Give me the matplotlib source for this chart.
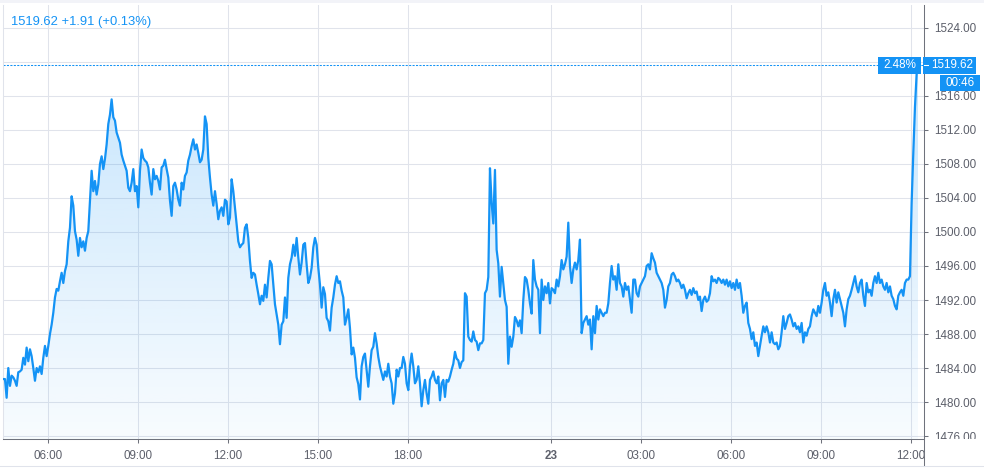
import numpy as np
import matplotlib
matplotlib.use("Agg")
import matplotlib.pyplot as plt
from matplotlib.patches import Rectangle, Polygon
from matplotlib.colors import to_rgb
from matplotlib.lines import Line2D
import matplotlib.transforms as mtransforms

# ---------------- data ----------------
# price samples, one every 3 min 20 s of trading time, 22nd 04:30 -> 23rd 12:14
prices_22_morning = [
    1482.7, 1482.7, 1480.5, 1484.0, 1481.9, 1483.1, 1482.9, 1482.5, 1481.9, 1483.5,
    1483.6, 1483.8, 1485.2, 1484.4, 1486.4, 1484.8, 1486.2, 1485.4, 1484.0, 1482.5,
    1484.0, 1483.5, 1484.2, 1483.3, 1485.2, 1486.6, 1485.4, 1486.6, 1488.0, 1489.1,
    1490.5, 1492.3, 1493.3, 1493.1, 1494.2, 1495.2, 1494.0, 1495.4, 1496.2, 1498.9,
    1500.5, 1504.2, 1503.1, 1500.1, 1499.1, 1497.2, 1499.3, 1498.2, 1498.9, 1497.8,
    1499.3, 1500.1, 1503.7, 1507.2, 1504.8, 1506.0, 1504.4, 1505.6, 1508.0, 1508.9,
    1507.4, 1508.6, 1510.3, 1512.7, 1513.8, 1515.6, 1513.5, 1513.1, 1511.7, 1511.1,
    1510.5, 1509.1, 1508.4, 1507.8, 1507.2, 1505.2, 1504.8, 1505.8, 1507.4, 1504.8,
    1505.4, 1502.9, 1507.2, 1509.7, 1508.7, 1508.4, 1508.2, 1507.6, 1505.8, 1504.4,
    1507.4, 1506.2, 1506.6, 1506.0, 1505.0, 1507.6, 1507.8, 1508.5, 1507.4, 1506.4,
    1503.7, 1501.9, 1505.4, 1505.8, 1505.0, 1503.8,
]
prices_22_midday = [
    1503.1, 1505.8, 1505.0, 1506.6, 1507.0, 1508.4, 1509.1, 1510.1, 1510.9, 1509.7,
    1510.3, 1509.3, 1508.2, 1508.5, 1509.7, 1513.6, 1512.7, 1508.7, 1506.4, 1504.4,
    1503.1, 1504.8, 1503.3, 1501.5, 1502.5, 1502.9, 1501.9, 1503.8, 1503.6, 1500.9,
    1501.7, 1506.2, 1504.8, 1502.9, 1500.9, 1498.9, 1498.2, 1498.5, 1498.7, 1500.5,
    1500.9, 1499.3, 1496.6, 1494.6, 1495.2, 1495.0, 1493.8, 1492.7, 1491.5, 1492.5,
    1491.9, 1493.8, 1492.3, 1494.6, 1496.6, 1496.2, 1493.8, 1491.5, 1490.3, 1489.1,
    1486.8, 1489.1, 1489.5, 1492.3, 1489.9, 1494.6, 1496.2, 1497.0, 1498.5, 1497.2,
    1499.3, 1497.0, 1495.0, 1496.4, 1498.5, 1498.7, 1496.2, 1494.0, 1494.6, 1495.8,
    1498.2, 1499.3, 1498.5, 1495.8, 1493.8, 1491.1, 1493.5, 1492.7, 1489.9, 1489.5,
    1488.4, 1491.1, 1492.3, 1493.8, 1494.8, 1494.0, 1494.2, 1493.1, 1492.3, 1489.1,
    1489.9, 1490.9, 1488.7, 1485.6, 1486.4, 1485.2, 1482.9, 1482.1,
]
prices_22_evening = [
    1480.3, 1484.2, 1485.3, 1485.7, 1483.8, 1481.8, 1484.2, 1486.1, 1486.5, 1488.1,
    1486.9, 1485.3, 1484.2, 1483.4, 1482.6, 1483.6, 1483.0, 1484.5, 1483.0, 1482.2,
    1479.8, 1481.0, 1483.8, 1483.0, 1484.0, 1484.0, 1485.3, 1484.5, 1482.2, 1481.4,
    1484.2, 1485.7, 1484.2, 1482.2, 1482.6, 1484.2, 1482.2, 1479.5, 1481.4, 1482.6,
    1481.0, 1479.8, 1482.6, 1483.0, 1483.6, 1482.6, 1482.2, 1483.0, 1480.2, 1482.2,
    1482.6, 1480.6, 1482.6, 1482.4, 1483.0, 1483.8, 1484.5, 1485.9, 1485.1, 1484.9,
    1484.0, 1484.7, 1484.9, 1492.8, 1492.4, 1487.7, 1487.3, 1487.1, 1488.3, 1487.3,
    1487.1, 1486.1, 1486.9, 1486.9, 1487.3, 1492.8, 1493.2, 1494.7, 1507.5, 1503.4,
    1501.0, 1507.3, 1497.9, 1496.3, 1492.4, 1495.9, 1494.0, 1492.0, 1491.2, 1484.5,
    1487.7, 1486.5, 1487.7, 1490.0, 1489.6, 1488.9, 1489.6, 1488.1, 1492.0, 1494.7,
    1494.4, 1493.2, 1491.6, 1490.4, 1496.7, 1494.4, 1493.6, 1493.2,
]
prices_23_night = [
    1488.1, 1494.4, 1492.0, 1493.6, 1492.8, 1494.0, 1491.6, 1493.4, 1493.2, 1492.8,
    1494.4, 1493.6, 1494.8, 1496.7, 1495.6, 1496.2, 1497.1, 1501.1, 1496.0, 1494.0,
    1495.6, 1496.4, 1495.6, 1496.7, 1499.1, 1488.1, 1489.3, 1489.7, 1490.1, 1489.1,
    1489.7, 1486.2, 1490.1, 1488.1, 1491.3, 1489.7, 1490.9, 1490.5, 1490.1, 1490.5,
    1490.5, 1491.6, 1494.0, 1496.0, 1494.4, 1494.8, 1493.2, 1496.2, 1494.0, 1493.6,
    1492.4, 1494.0, 1493.2, 1493.6, 1492.0, 1490.5, 1494.4, 1494.4, 1492.8, 1492.4,
    1493.6, 1494.0, 1494.4, 1494.8, 1496.0, 1496.2, 1495.6, 1497.5, 1496.9, 1496.4,
    1495.2, 1494.8, 1494.4, 1494.0, 1493.2, 1491.1, 1492.0, 1493.6, 1494.0, 1495.0,
    1495.2, 1494.8, 1494.2, 1494.4, 1494.0, 1493.4, 1493.8, 1493.2, 1492.2, 1492.8,
    1493.2, 1492.6, 1493.4, 1492.8, 1493.0, 1492.0, 1492.4, 1490.7, 1492.0, 1492.4,
    1491.8, 1492.0, 1492.8, 1494.8, 1494.2, 1494.4, 1494.0, 1494.6,
]
prices_23_morning = [
    1494.4, 1494.0, 1494.4, 1493.8, 1494.4, 1493.6, 1494.2, 1493.4, 1494.0, 1493.2,
    1494.4, 1493.4, 1494.0, 1492.5, 1490.5, 1491.3, 1491.7, 1489.3, 1488.6, 1487.4,
    1488.2, 1486.6, 1487.0, 1485.4, 1486.6, 1487.8, 1488.9, 1488.2, 1488.9, 1488.2,
    1487.0, 1488.2, 1487.0, 1486.8, 1487.0, 1486.2, 1486.6, 1488.2, 1490.1, 1488.6,
    1489.3, 1490.1, 1490.3, 1489.7, 1488.9, 1489.3, 1488.6, 1488.9, 1488.2, 1489.3,
    1487.0, 1488.2, 1487.8, 1488.6, 1488.9, 1490.1, 1490.9, 1490.5, 1490.1, 1491.3,
    1490.5, 1491.7, 1493.2, 1494.0, 1492.5, 1492.9, 1491.7, 1490.1, 1492.1, 1493.2,
    1491.7, 1492.9, 1492.1, 1491.3, 1490.5, 1488.9, 1490.9, 1492.1, 1492.5, 1493.2,
    1494.0, 1494.8, 1493.6, 1492.9, 1494.0, 1494.4, 1492.5, 1491.3, 1494.0, 1492.9,
    1493.2, 1492.5, 1494.0, 1494.8, 1494.0, 1495.2, 1494.0, 1494.4, 1493.6, 1493.2,
    1494.0, 1492.9, 1493.6, 1492.5, 1492.1, 1491.3, 1490.9, 1492.5, 1492.9, 1493.2,
    1492.5, 1494.0, 1494.4, 1494.4, 1494.8, 1503.4, 1509.3, 1514.7, 1518.6, 1519.62,
]

start_hour = 4.51            # trading-time hour of the first sample (22nd)
sample_minutes = 10.0 / 3.0  # spacing between samples
session_break_h = 1.23       # clock hours skipped by the daily break

tick_hours = [6, 9, 12, 15, 18, 24, 27, 30, 33, 36]
tick_labels = ["06:00", "09:00", "12:00", "15:00", "18:00", "23",
               "03:00", "06:00", "09:00", "12:00"]
y_ticks = list(range(1476, 1525, 4))

legend_text = "1519.62 +1.91 (+0.13%)"
change_pct_text = "2.48%"
countdown_text = "00:46"

# ---------------- derived ----------------
prices = np.array(prices_22_morning + prices_22_midday + prices_22_evening
                  + prices_23_night + prices_23_morning)
t = start_hour + np.arange(len(prices)) * sample_minutes / 60.0
tick_pos = [h if h < 24 else h - session_break_h for h in tick_hours]
last = prices[-1]

BLUE = "#1493f5"
GRID = "#e0e3eb"
TXT = "#5d606b"
AXC = "#6f727c"
FONT = ["Liberation Sans", "DejaVu Sans"]
plt.rcParams["font.family"] = FONT

W, H = 984, 474
fig = plt.figure(figsize=(W / 100, H / 100), dpi=100)
fig.patch.set_facecolor("white")
L, R, T, B = 3, 924, 5, 439
ax = fig.add_axes([L / W, (H - B) / H, (R - L) / W, (B - T) / H])
ax.set_facecolor("white")

ymin, ymax = 1475.65, 1526.7
xmin, xmax = 4.5, 35.2

# gradient area
verts = [(t[0], ymin)] + list(zip(t, prices)) + [(t[-1], ymin)]
poly = Polygon(verts, closed=True, facecolor="none", edgecolor="none")
ax.add_patch(poly)
n = 256
frac = np.linspace(1, 0, n).reshape(-1, 1)
rgba = np.zeros((n, 1, 4))
rgba[..., :3] = to_rgb(BLUE)
rgba[..., 3] = 0.03 + (0.24 - 0.03) * frac
im = ax.imshow(rgba, extent=[t[0], t[-1], ymin, 1520], origin="upper",
               aspect="auto", interpolation="bilinear", zorder=1)
im.set_clip_path(poly)

ax.plot(t, prices, color=BLUE, lw=1.6, zorder=3, solid_joinstyle="round")

ax.axhline(last, color=BLUE, lw=0.75, ls=(0, (2, 1.3)), zorder=2)

ax.set_xlim(xmin, xmax)
ax.set_ylim(ymin, ymax)

ax.set_yticks(y_ticks)
# the 1520.00 label sits under the last-price badge, as in the reference
ax.set_yticklabels(["" if abs(v - last) < 2 else f"{v:.2f}" for v in y_ticks])
ax.yaxis.tick_right()
ax.set_xticks(tick_pos)
ax.set_xticklabels(tick_labels)
for lab, txt in zip(ax.get_xticklabels(), tick_labels):
    if txt == "23":
        lab.set_fontweight("bold")
        lab.set_color("#3a3d46")
ax.tick_params(axis="y", which="both", right=True, left=False, length=3,
               width=0.75, color=AXC, pad=4.2, labelsize=8.4, labelcolor=TXT)
ax.tick_params(axis="x", length=3, width=0.75, color=AXC, pad=5,
               labelsize=8.4, labelcolor=TXT)
ax.grid(True, color=GRID, lw=0.75)
ax.set_axisbelow(True)
ax.spines["top"].set_visible(False)
ax.spines["left"].set_color(GRID)
ax.spines["left"].set_linewidth(0.75)
ax.spines["right"].set_color(AXC)
ax.spines["right"].set_linewidth(0.75)
ax.spines["bottom"].set_color(AXC)
ax.spines["bottom"].set_linewidth(0.75)

# ---------------- overlays in pixel space ----------------
ident = mtransforms.IdentityTransform()
yp = ax.transData.transform((t[-1], last))[1]   # display y of last price

def add_rect(x0, y0, x1, y1, color, z):
    r = Rectangle((x0, y0), x1 - x0, y1 - y0, transform=ident,
                  facecolor=color, edgecolor="none", zorder=z)
    fig.add_artist(r)

# white cover below the price scale (clips "1476.00" and the last time label)
add_rect(R, 0, W, H - B, "white", 5)
fig.add_artist(Line2D([R, R], [H - 466, H - B], transform=ident, color=AXC,
                      lw=0.75, zorder=6))
fig.add_artist(Line2D([0, W], [H - 466, H - 466], transform=ident, color=GRID,
                      lw=0.75, zorder=6))
add_rect(0, H - 3, W, H, "#f2f3f8", 6)

# price / change / countdown badges
add_rect(878, yp - 8.5, 921, yp + 8.5, BLUE, 7)
add_rect(923, yp - 8.5, 976, yp + 8.5, BLUE, 7)
add_rect(940, yp - 25.5, 980, yp - 9.5, BLUE, 7)
fig.add_artist(Line2D([924, 928], [yp, yp], transform=ident, color="white",
                      lw=0.75, zorder=8))
fig.add_artist(plt.Text(900, yp, change_pct_text, transform=ident, color="white",
                        ha="center", va="center", fontsize=8.4, zorder=8,
                        family=FONT))
fig.add_artist(plt.Text(931, yp, f"{last:.2f}", transform=ident, color="white",
                        ha="left", va="center", fontsize=8.4, zorder=8,
                        family=FONT))
fig.add_artist(plt.Text(960, yp - 17.5, countdown_text, transform=ident,
                        color="white", ha="center", va="center", fontsize=8.4,
                        zorder=8, family=FONT))

fig.text(11 / W, 1 - 22 / H, legend_text, color=BLUE, fontsize=9.4,
         ha="left", va="center", family=FONT)

fig.savefig("out.png", dpi=100, facecolor="white")
